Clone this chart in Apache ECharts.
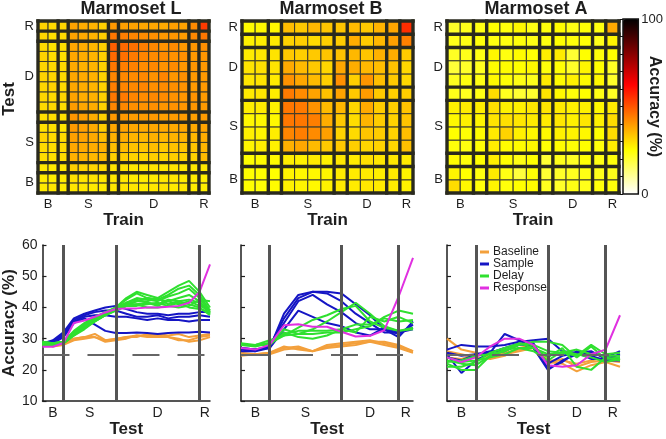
<!DOCTYPE html>
<html><head><meta charset="utf-8">
<script src="https://cdn.jsdelivr.net/npm/echarts/dist/echarts.min.js"></script>
<style>html,body{margin:0;padding:0;background:#fff}#c{width:666px;height:439px}</style>
</head><body><div id="c"></div>
<script>
// ---------------- DATA ----------------
const monkeyNames = ['Marmoset L', 'Marmoset B', 'Marmoset A'];
const epochNames = ['Baseline', 'Sample', 'Delay', 'Response'];
const tickLabels = ['B', 'S', 'D', 'R'];
const chanceLevel = 25;

// block sizes of the heatmap grid (bins between thick lines)
const blocksL = [2, 1, 4, 1, 7, 1, 1];
const blocksB = [2, 1, 4, 1, 3, 1, 1];
const blocksA = [2, 1, 4, 1, 3, 1, 1];
// epoch event bins (vertical lines in line plots)
const eventsL = [2, 7, 15];
const eventsB = [2, 7, 11];
const eventsA = [2, 7, 11];
// tick positions for B/S/D/R
const hmTicksL = [1, 5, 11.5, 16.5];
const hmTicks13 = [1, 5, 9.5, 12.5];
const lnTicksL = [1, 4.5, 11, 15.5];
const lnTicks13 = [1, 4.5, 9, 11.5];

// each line = one training bin, values over test bins (accuracy %)
const baselineL = [
  [28.0,28.0,28.5,30.0,30.5,31.5,29.5,29.8,30.5,31.0,31.0,31.5,31.0,31.5,30.5,31.0,31.5],
  [28.5,27.5,28.0,29.5,30.0,30.5,29.5,30.0,30.5,30.5,31.5,31.0,30.5,30.0,29.0,29.5,30.5],
  [28.0,28.0,28.5,30.0,30.5,30.5,29.0,29.5,30.0,31.0,30.5,30.5,30.5,29.5,29.5,30.5,31.0]
];
const sampleL = [
  [28.5,29.5,32.0,36.5,38.0,39.0,40.0,40.5,39.5,38.5,38.0,38.0,37.5,38.0,38.0,38.5,38.5],
  [28.5,29.0,31.5,36.0,37.5,38.5,39.0,39.0,38.0,37.0,37.0,37.5,36.5,37.0,37.0,37.5,37.0],
  [28.0,29.0,31.0,35.5,37.0,37.5,37.5,37.0,37.0,36.5,36.0,36.5,36.0,36.0,35.5,36.0,36.0],
  [28.0,28.5,30.5,35.0,36.5,34.5,32.5,31.8,31.8,32.0,31.8,31.5,31.8,32.0,32.0,32.2,32.0]
];
const delayL = [
  [28.5,28.5,29.0,32.0,34.5,36.5,38.0,40.0,43.0,45.0,44.0,43.0,45.0,47.0,48.5,45.0,40.0],
  [29.0,28.5,29.0,32.5,35.0,37.0,38.5,40.0,42.5,44.5,43.0,42.5,44.0,46.0,47.0,44.0,39.0],
  [28.5,28.0,28.5,31.5,34.0,36.0,38.0,39.5,41.5,43.0,42.5,42.0,43.5,44.5,46.0,43.0,38.5],
  [28.0,28.0,28.5,31.0,33.5,35.5,37.5,39.5,41.0,42.0,43.0,42.5,42.0,43.0,44.0,42.0,38.0],
  [28.5,28.0,29.0,32.0,34.5,36.5,38.0,40.0,41.5,42.5,41.5,41.0,42.5,42.0,42.5,41.5,38.0],
  [29.0,28.5,28.5,31.0,33.0,35.5,37.5,39.0,40.5,42.0,42.0,43.0,41.0,42.0,41.0,40.0,37.5],
  [28.0,28.5,29.0,32.0,34.0,36.0,37.5,39.5,41.0,41.0,41.5,40.5,42.0,41.0,42.0,40.5,39.0],
  [28.5,28.0,28.5,31.5,33.5,36.0,38.0,39.5,40.5,40.5,41.0,41.5,40.5,41.5,40.0,39.5,38.5],
  [28.0,28.0,28.5,31.5,33.5,35.5,37.5,39.0,40.5,41.0,40.0,40.0,40.5,40.0,40.5,42.5,42.0]
];
const responseL = [
  [27.4,27.4,28.6,35.0,35.8,37.0,38.4,39.5,39.7,39.7,40.0,40.0,40.2,40.5,41.5,45.0,53.8]
];

const baselineB = [
  [25.0,25.0,25.0,26.5,27.0,26.0,27.5,28.0,28.5,29.0,28.0,27.0,25.5],
  [24.5,25.0,25.5,27.5,26.5,26.0,28.0,28.5,29.0,29.5,28.5,27.5,26.0],
  [25.5,25.0,25.5,27.0,27.5,26.0,27.0,27.5,28.0,29.0,29.0,28.0,26.0]
];
const sampleB = [
  [27.0,26.5,27.5,36.5,43.0,45.0,45.0,44.5,41.0,37.5,33.0,31.5,34.5],
  [26.5,26.0,27.0,38.0,44.0,45.0,44.5,42.0,38.0,35.0,32.0,32.0,33.0],
  [26.0,26.0,28.0,35.0,42.0,44.0,41.0,38.5,35.0,33.0,33.0,30.5,35.5],
  [27.0,26.5,27.0,33.0,39.0,37.0,35.0,34.0,32.0,31.0,33.5,32.0,33.5]
];
const delayB = [
  [28.0,28.0,28.5,33.0,31.5,33.0,35.5,38.5,41.5,38.0,34.0,32.5,33.5],
  [28.0,28.0,28.0,32.0,30.5,30.0,31.0,33.0,32.0,37.0,35.5,37.0,35.0],
  [28.5,28.0,29.5,31.0,33.5,36.0,37.5,39.5,40.5,35.5,33.5,32.5,33.0],
  [28.0,27.5,28.5,31.5,32.5,32.5,32.5,33.0,34.5,34.5,36.5,35.5,36.0],
  [28.0,28.0,28.5,31.0,31.5,31.5,32.0,32.0,33.0,34.0,37.0,39.0,38.0]
];
const responseB = [
  [27.0,26.5,28.0,34.3,34.6,33.8,33.8,32.2,30.7,30.9,32.7,43.5,55.9]
];

const baselineA = [
  [30.0,26.5,25.5,24.0,25.0,26.0,27.0,22.5,22.0,19.5,21.5,22.5,21.0],
  [26.0,25.0,24.0,23.5,24.5,27.0,28.0,22.0,23.5,21.0,22.5,23.0,22.5],
  [24.0,23.5,25.0,24.5,25.5,26.5,27.5,23.0,23.0,22.0,23.0,24.0,23.0]
];
const sampleA = [
  [26.5,28.0,27.5,27.5,28.0,29.0,29.5,30.0,26.0,25.5,26.0,23.5,25.0],
  [24.0,23.0,25.0,25.5,31.5,29.5,27.0,22.0,24.5,25.5,23.5,23.5,24.0],
  [25.0,19.0,23.0,25.5,27.0,28.5,27.0,20.0,23.0,25.0,25.5,24.0,26.0],
  [25.5,24.5,25.0,26.0,26.0,28.0,28.5,20.5,22.5,26.0,24.5,23.0,23.0]
];
const delayA = [
  [22.0,20.0,20.0,24.5,26.0,28.0,29.0,29.0,28.0,24.0,27.5,23.5,24.0],
  [21.0,21.0,22.5,25.5,27.0,28.5,28.0,26.0,25.5,24.5,28.0,25.0,25.5],
  [23.0,22.0,21.5,24.5,26.5,27.0,27.0,24.0,27.0,21.0,20.0,24.0,23.0],
  [22.5,23.0,24.5,25.0,26.0,28.5,27.0,25.0,25.5,26.5,25.0,24.5,24.5],
  [24.0,22.5,23.0,24.0,25.0,27.0,26.0,23.0,26.0,25.0,24.0,22.5,23.5]
];
const responseA = [
  [24.0,22.5,24.0,27.5,30.0,30.0,28.0,21.5,21.0,21.5,25.0,26.5,37.5]
];

// ---------------- STYLE / LAYOUT ----------------
const FONT = 'Liberation Sans, Arial, Helvetica, sans-serif';
const TXT = '#1e1e1e';
const epochColors = ['#f3a03c', '#1515c4', '#2fe02f', '#e030e0'];

const monkeys = [
  {lines: [baselineL, sampleL, delayL, responseL], blocks: blocksL, events: eventsL, hmTicks: hmTicksL, lnTicks: lnTicksL,
   hm: {left: 37, top: 21, width: 172, height: 172}, ln: {left: 38, top: 245, width: 172, height: 162}, titleX: 131},
  {lines: [baselineB, sampleB, delayB, responseB], blocks: blocksB, events: eventsB, hmTicks: hmTicks13, lnTicks: lnTicks13,
   hm: {left: 242, top: 21, width: 171, height: 172}, ln: {left: 241, top: 245, width: 172, height: 162}, titleX: 331},
  {lines: [baselineA, sampleA, delayA, responseA], blocks: blocksA, events: eventsA, hmTicks: hmTicks13, lnTicks: lnTicks13,
   hm: {left: 447, top: 21, width: 172, height: 172}, ln: {left: 447, top: 245, width: 173, height: 162}, titleX: 536}
];

function hotRev(t) {
  const v = 1 - t, c = x => Math.round(255 * Math.min(1, Math.max(0, x)));
  return 'rgb(' + c(v / 0.375) + ',' + c((v - 0.375) / 0.375) + ',' + c((v - 0.75) / 0.25) + ')';
}
const hotStops = [];
for (let k = 0; k <= 8; k++) hotStops.push(hotRev(k / 8));

function tickFormatter(pos) {
  return v => { const k = pos.findIndex(p => Math.abs(p - v) < 1e-6); return k >= 0 ? tickLabels[k] : ''; };
}

const grids = [], xAxes = [], yAxes = [], series = [], titles = [];
const hmSeriesIdx = [];

monkeys.forEach((m, mi) => {
  const cols = [], colEpoch = [];
  m.lines.forEach((group, e) => group.forEach(line => { cols.push(line); colEpoch.push(e); }));
  const N = cols.length;
  const boundaries = [0];
  m.blocks.forEach(b => boundaries.push(boundaries[boundaries.length - 1] + b));

  titles.push({text: monkeyNames[mi], left: m.titleX, top: 0, textAlign: 'center', padding: 0,
    textStyle: {fontFamily: FONT, fontSize: 18, fontWeight: 'bold', color: TXT}});

  // ---- heatmap grid ----
  const gH = grids.length;
  grids.push(Object.assign({containLabel: false}, m.hm));
  xAxes.push({gridIndex: gH, type: 'value', min: 0, max: N, interval: 0.5,
    axisLine: {show: false}, axisTick: {show: false}, splitLine: {show: false},
    axisLabel: {formatter: tickFormatter(m.hmTicks), fontFamily: FONT, fontSize: 13, color: TXT, margin: 5},
    name: 'Train', nameLocation: 'middle', nameGap: 15,
    nameTextStyle: {fontFamily: FONT, fontSize: 17, fontWeight: 'bold', color: TXT}});
  yAxes.push({gridIndex: gH, type: 'value', min: 0, max: N, interval: 0.5,
    axisLine: {show: false}, axisTick: {show: false}, splitLine: {show: false},
    axisLabel: {formatter: tickFormatter(m.hmTicks), fontFamily: FONT, fontSize: 13, color: TXT, margin: 4},
    name: mi === 0 ? 'Test' : '', nameLocation: 'middle', nameGap: 20,
    nameTextStyle: {fontFamily: FONT, fontSize: 17, fontWeight: 'bold', color: TXT, padding: [0, 0, 0, 16]}});
  const cells = [];
  cols.forEach((line, j) => line.forEach((v, i) => cells.push([j, i, v])));
  hmSeriesIdx.push(series.length);
  series.push({type: 'custom', xAxisIndex: gH, yAxisIndex: gH, data: cells, encode: {x: 0, y: 1},
    silent: true, animation: false,
    renderItem: (p, api) => {
      const x = api.value(0), y = api.value(1);
      const a = api.coord([x, y + 1]), b = api.coord([x + 1, y]);
      return {type: 'rect', shape: {x: a[0], y: a[1], width: b[0] - a[0], height: b[1] - a[1]},
        style: {fill: api.visual('color'), stroke: '#3a3a2c', lineWidth: 1}};
    }});
  series.push({type: 'custom', xAxisIndex: gH, yAxisIndex: gH, data: boundaries.map(b => [b, 0]),
    silent: true, animation: false, z: 3,
    renderItem: (p, api) => {
      const b = api.value(0);
      const v0 = api.coord([b, 0]), v1 = api.coord([b, N]);
      const h0 = api.coord([0, b]), h1 = api.coord([N, b]);
      const st = {stroke: '#2a2a1e', lineWidth: 3.4};
      return {type: 'group', children: [
        {type: 'line', shape: {x1: v0[0], y1: v0[1] + 1.7, x2: v1[0], y2: v1[1] - 1.7}, style: st},
        {type: 'line', shape: {x1: h0[0] - 1.7, y1: h0[1], x2: h1[0] + 1.7, y2: h1[1]}, style: st}
      ]};
    }});

  // ---- line grid ----
  const gL = grids.length;
  grids.push(Object.assign({containLabel: false}, m.ln));
  xAxes.push({gridIndex: gL, type: 'value', min: 0, max: N - 1, interval: 0.5,
    axisLine: {show: true, onZero: false, lineStyle: {color: TXT, width: 1.5}}, axisTick: {show: false}, splitLine: {show: false},
    axisLabel: {formatter: tickFormatter(m.lnTicks), fontFamily: FONT, fontSize: 14, color: TXT, margin: 5},
    name: 'Test', nameLocation: 'middle', nameGap: 17,
    nameTextStyle: {fontFamily: FONT, fontSize: 17, fontWeight: 'bold', color: TXT}});
  yAxes.push({gridIndex: gL, type: 'value', min: 10, max: 60, interval: 10,
    axisLine: {show: true, onZero: false, lineStyle: {color: TXT, width: 1.5}},
    axisTick: {show: true, inside: true, length: 4, lineStyle: {color: TXT, width: 1.2}}, splitLine: {show: false},
    axisLabel: {show: mi === 0, fontFamily: FONT, fontSize: 14, color: TXT, margin: 5},
    name: mi === 0 ? 'Accuracy (%)' : '', nameLocation: 'middle', nameGap: 22,
    nameTextStyle: {fontFamily: FONT, fontSize: 17, fontWeight: 'bold', color: TXT}});
  cols.forEach((line, j) => {
    const c = epochColors[colEpoch[j]];
    series.push({type: 'line', name: epochNames[colEpoch[j]], xAxisIndex: gL, yAxisIndex: gL,
      data: line.map((v, i) => [i, v]), symbol: 'none', showSymbol: false, silent: true, animation: false,
      lineStyle: {color: c, width: 2}, itemStyle: {color: c}, z: 2});
  });
  series.push({type: 'line', xAxisIndex: gL, yAxisIndex: gL, data: [], silent: true, animation: false, z: 5,
    markLine: {silent: true, symbol: ['none', 'none'], label: {show: false}, animation: false,
      data: m.events.map(e => ({xAxis: e, lineStyle: {color: '#555', width: 3, type: 'solid'}}))
        .concat([{yAxis: chanceLevel, lineStyle: {color: '#666', width: 2, type: [27, 18]}}])}});
});

// ---- colorbar grid ----
const gC = grids.length;
grids.push({left: 623, top: 19, width: 16, height: 175, show: true, borderColor: '#111', borderWidth: 1.5,
  backgroundColor: 'transparent', z: 10});
xAxes.push({gridIndex: gC, type: 'value', min: 0, max: 1, show: false});
yAxes.push({gridIndex: gC, type: 'value', min: 0, max: 100, interval: 10, position: 'right', z: 10,
  axisLine: {show: false}, axisTick: {show: true, inside: true, length: 3, lineStyle: {color: '#111'}},
  splitLine: {show: false},
  axisLabel: {formatter: v => (v === 0 || v === 100) ? String(v) : '', fontFamily: FONT, fontSize: 13, color: TXT, margin: 3},
  name: 'Accuracy (%)', nameLocation: 'middle', nameGap: 8, nameRotate: -90, nameMoveOverlap: false,
  nameTextStyle: {fontFamily: FONT, fontSize: 16, fontWeight: 'bold', color: TXT}});

const option = {
  backgroundColor: '#fff',
  animation: false,
  title: titles,
  grid: grids, xAxis: xAxes, yAxis: yAxes, series: series,
  visualMap: {type: 'continuous', min: 0, max: 100, dimension: 2, seriesIndex: hmSeriesIdx,
    inRange: {color: hotStops}, calculable: false, show: true, orient: 'vertical',
    left: 623, top: 19, itemWidth: 16, itemHeight: 175, padding: 0, text: null, hoverLink: false},
  legend: {data: epochNames, orient: 'vertical', left: 480, top: 246, padding: 0, itemGap: 0,
    itemWidth: 9, itemHeight: 3, icon: 'rect', selectedMode: false,
    textStyle: {fontFamily: FONT, fontSize: 12, color: TXT, lineHeight: 11, padding: [0, 0, 0, -1]}}
};
const chart = echarts.init(document.getElementById('c'), null, {renderer: 'canvas'});
chart.setOption(option);
</script></body></html>
